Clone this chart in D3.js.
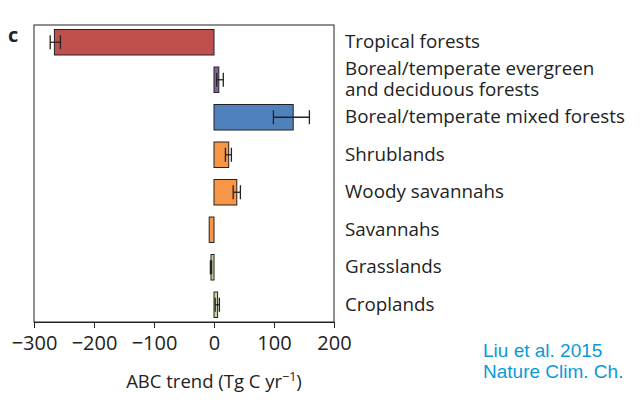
<!DOCTYPE html>
<html><head><meta charset="utf-8">
<script src="https://cdn.jsdelivr.net/npm/d3@7"></script>
<style>body{margin:0;background:#fff}svg{font-family:"Open Sans",Arial,sans-serif}</style>
</head><body><svg id="c" width="643" height="411"></svg>
<script>
const categories = ["Tropical forests","Boreal/temperate evergreen\nand deciduous forests","Boreal/temperate mixed forests","Shrublands","Woody savannahs","Savannahs","Grasslands","Croplands"];
const values = [-266, 8, 132, 24.5, 38, -8, -5, 6];
const errLow = [-273, 4.5, 99, 19, 32, null, -6, 2];
const errHigh = [-256, 15.5, 159, 29, 44, null, -4, 9];
const colors = ["#c0504d","#8064a2","#4f81bd","#f79646","#f79646","#f79646","#c3d69b","#c3d69b"];
const ticks = [-300,-200,-100,0,100,200];

const svg = d3.select("#c");
const x = d3.scaleLinear().domain([-300,200]).range([34,334]);
const y = d3.scaleBand().domain(d3.range(categories.length)).range([25,322]).paddingInner(0.32).paddingOuter(0.12);

svg.append("rect").attr("x",34).attr("y",25).attr("width",300).attr("height",297).attr("fill","none").attr("stroke","#222").attr("stroke-width",1);

const ax = svg.append("g").attr("transform","translate(0,322)").call(d3.axisBottom(x).tickValues(ticks).tickSize(6).tickSizeOuter(0).tickFormat(d=>d<0?"\u2212"+(-d):d));
ax.select(".domain").attr("stroke","#222");
ax.selectAll("line").attr("stroke","#222");
ax.selectAll("text").attr("font-size",20).attr("fill","#222").attr("dy","0.95em").attr("font-family","Open Sans, sans-serif");

svg.selectAll("rect.bar").data(values).join("rect").attr("class","bar")
 .attr("x",d=>x(Math.min(0,d))).attr("width",d=>Math.abs(x(d)-x(0)))
 .attr("y",(d,i)=>y(i)).attr("height",y.bandwidth())
 .attr("fill",(d,i)=>colors[i]).attr("stroke","#222").attr("stroke-width",1);

values.forEach((v,i)=>{
  if(errLow[i]==null) return;
  const cy=y(i)+y.bandwidth()/2, h=y.bandwidth()*0.55;
  const g=svg.append("g").attr("stroke","#222").attr("stroke-width",1.3);
  g.append("line").attr("x1",x(errLow[i])).attr("x2",x(errHigh[i])).attr("y1",cy).attr("y2",cy);
  [errLow[i],errHigh[i]].forEach(e=>g.append("line").attr("x1",x(e)).attr("x2",x(e)).attr("y1",cy-h/2).attr("y2",cy+h/2));
});

categories.forEach((c,i)=>{
  const lines=c.split("\n"); const cy=y(i)+y.bandwidth()/2;
  const t=svg.append("text").attr("x",345).attr("font-size",18.8).attr("fill","#222");
  lines.forEach((l,j)=>t.append("tspan").attr("x",345).attr("y",cy+6+(j-(lines.length-1)/2)*21).text(l));
});

svg.append("text").attr("x",214).attr("y",388).attr("text-anchor","middle").attr("font-size",18.5).attr("fill","#222")
 .html('ABC trend (Tg C yr<tspan dy="-7" font-size="12.5">\u22121</tspan><tspan dy="7">)</tspan>');
svg.append("text").attr("x",8).attr("y",42).attr("font-size",20).attr("font-weight","bold").attr("fill","#222").text("c");
svg.append("text").attr("x",483).attr("y",357).attr("font-size",19).attr("fill","#0a9ad8").attr("font-family","Arial, Liberation Sans, sans-serif").text("Liu et al. 2015");
svg.append("text").attr("x",483).attr("y",378).attr("font-size",19).attr("fill","#0a9ad8").attr("font-family","Arial, Liberation Sans, sans-serif").text("Nature Clim. Ch.");
</script></body></html>
